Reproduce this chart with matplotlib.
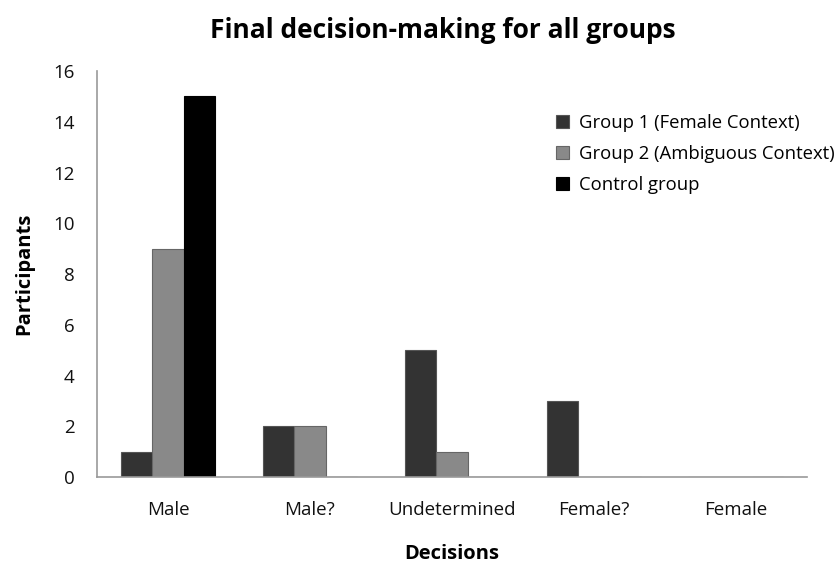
import numpy as np
import matplotlib.pyplot as plt

categories = ["Male", "Male?", "Undetermined", "Female?", "Female"]
group1 = [1, 2, 5, 3, 0]
group2 = [9, 2, 1, 0, 0]
control = [15, 0, 0, 0, 0]
series_names = ["Group 1 (Female Context)", "Group 2 (Ambiguous Context)", "Control group"]

plt.rcParams['font.family'] = ['Open Sans', 'DejaVu Sans']

fig = plt.figure(figsize=(8.36, 5.64), dpi=100)
ax = fig.add_axes([0.116, 0.154, 0.849, 0.72])

x = np.arange(len(categories))
w = 0.222
colors = ["#333333", "#898989", "#000000"]
edges = ["#555555", "#666666", "#000000"]
for i, (vals, name) in enumerate(zip([group1, group2, control], series_names)):
    ax.bar(x + (i - 1) * w, vals, w, color=colors[i], edgecolor=edges[i],
           linewidth=0.8, label=name)

ax.set_xlim(-0.5, len(categories) - 0.5)
ax.set_ylim(0, 16)
ax.set_yticks(range(0, 17, 2))
ax.set_xticks(x)
ax.set_xticklabels(categories)
ax.tick_params(axis='both', length=0, labelsize=13.5, colors='#111111')
ax.tick_params(axis='y', pad=16)
ax.tick_params(axis='x', pad=17)

for s in ["top", "right"]:
    ax.spines[s].set_visible(False)
for s in ["left", "bottom"]:
    ax.spines[s].set_color("#999999")
    ax.spines[s].set_linewidth(1.2)

ax.set_ylabel("Participants", fontsize=14.5, fontweight='bold', labelpad=14)
ax.set_xlabel("Decisions", fontsize=14.5, fontweight='bold', labelpad=18)
fig.suptitle("Final decision-making for all groups", fontsize=19, fontweight='bold',
             x=0.53, y=0.97)

ax.legend(loc='upper left', bbox_to_anchor=(0.624, 0.935), frameon=False,
          fontsize=13.3, handlelength=0.7, handleheight=0.7, handletextpad=0.5,
          labelspacing=0.7)

fig.savefig("out.png", dpi=100)
